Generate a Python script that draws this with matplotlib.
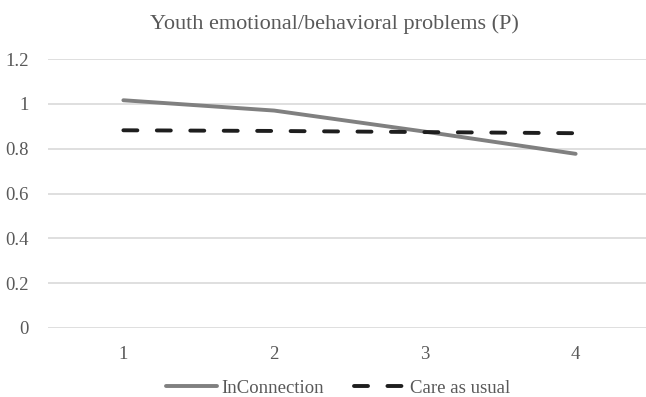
import matplotlib
matplotlib.use("Agg")
import matplotlib.pyplot as plt

# values
waves = [1, 2, 3, 4]
wave_labels = ["1", "2", "3", "4"]
inconnection = [1.016, 0.970, 0.876, 0.777]
care_as_usual = [0.882, 0.879, 0.874, 0.869]
y_ticks = [0, 0.2, 0.4, 0.6, 0.8, 1.0, 1.2]
y_tick_labels = ["0", "0.2", "0.4", "0.6", "0.8", "1", "1.2"]

plt.rcParams["font.family"] = ["Liberation Serif", "DejaVu Serif"]
text_col = "#595959"

W, H = 646, 397
fig = plt.figure(figsize=(W / 100, H / 100), dpi=100)
# axes box in pixels: left 48, right 651, top 59, bottom 328
ax = fig.add_axes([48 / W, (H - 328) / H, (651 - 48) / W, (328 - 59) / H])

ax.plot(waves, inconnection, color="#808080", lw=2.8,
        solid_capstyle="round", label="InConnection")
ax.plot(waves, care_as_usual, color="#1e1e1e", lw=2.8,
        dash_capstyle="round", dashes=(3.6, 5.0), label="Care as usual")

ax.set_xlim(0.5, 4.5)
ax.set_ylim(0, 1.2)
ax.set_yticks(y_ticks)
ax.set_yticklabels(y_tick_labels)
ax.set_xticks(waves)
ax.set_xticklabels(wave_labels)
ax.grid(axis="y", color="#d9d9d9", lw=1.2)
ax.set_axisbelow(True)
for s in ax.spines.values():
    s.set_visible(False)
ax.tick_params(axis="both", length=0, labelsize=13.5, colors=text_col)
ax.tick_params(axis="y", pad=14)
ax.tick_params(axis="x", pad=13)

fig.text(334 / W, 1 - 24 / H, "Youth emotional/behavioral problems (P)",
         ha="center", va="center", fontsize=16, color=text_col)

fig.legend(loc="center", bbox_to_anchor=(338 / W, 1 - 388 / H), ncol=2,
           frameon=False, fontsize=13.5, handlelength=2.7,
           columnspacing=1.6, handletextpad=0.25, labelcolor=text_col)

fig.savefig("out.png", dpi=100)
